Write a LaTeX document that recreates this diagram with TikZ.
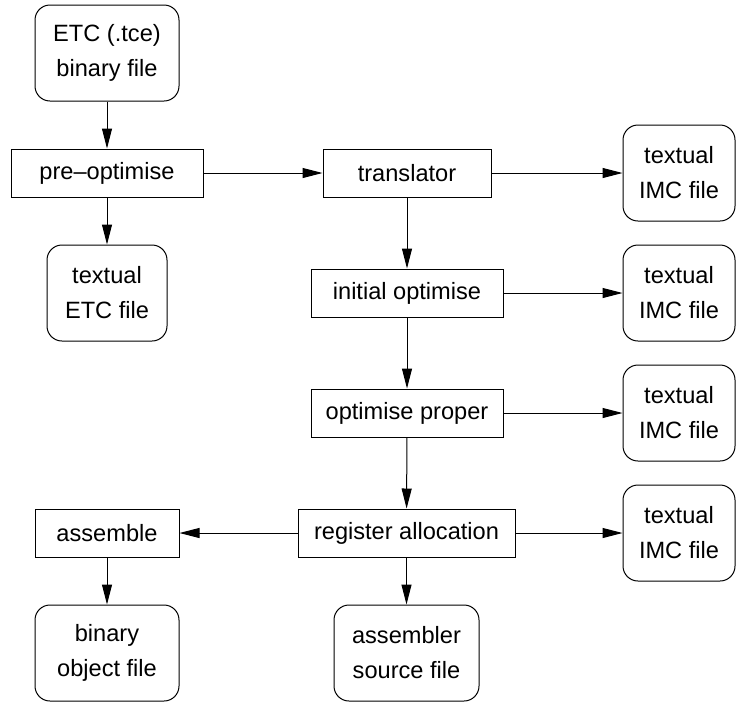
\documentclass[tikz,border=0pt]{standalone}
\usepackage{fontspec}
\setmainfont{Liberation Sans}
\usetikzlibrary{arrows.meta}
\tikzset{
  every node/.style={font=\fontsize{23.6}{35}\selectfont, align=center, inner sep=0pt, line width=1pt},
  proc/.style={draw, rectangle, minimum height=48pt},
  fileb/.style={draw, rectangle, rounded corners=15pt, minimum height=96pt},
  conn/.style={draw, line width=1pt, -{Triangle[length=20pt,width=10pt]}}
}
\begin{document}
\begin{tikzpicture}[x=1pt,y=-1pt]
\useasboundingbox (0,0) rectangle (736,702);
\node[fileb, minimum width=144pt] (etc) at (107,53) {ETC (.tce)\\binary file};
\node[proc, minimum width=192pt] (pre) at (107,173) {pre–optimise};
\node[fileb, minimum width=120pt] (tetc) at (107,293) {textual\\ETC file};
\node[proc, minimum width=168pt] (trans) at (407,173) {translator};
\node[fileb, minimum width=112pt] (imca) at (679,173) {textual\\IMC file};
\node[proc, minimum width=192pt] (init) at (407,293) {initial optimise};
\node[fileb, minimum width=112pt] (imcb) at (679,293) {textual\\IMC file};
\node[proc, minimum width=192pt] (opt) at (407,413) {optimise proper};
\node[fileb, minimum width=112pt] (imcc) at (679,413) {textual\\IMC file};
\node[proc, minimum width=217pt] (reg) at (406.5,533) {register allocation};
\node[fileb, minimum width=112pt] (imcd) at (679,533) {textual\\IMC file};
\node[proc, minimum width=144pt] (asm) at (107,533) {assemble};
\node[fileb, minimum width=144pt] (bin) at (107,653) {binary\\object file};
\node[fileb, minimum width=145pt] (src) at (406.5,653) {assembler\\source file};

\draw[conn] (etc) -- (pre);
\draw[conn] (pre) -- (tetc);
\draw[conn] (pre) -- (trans);
\draw[conn] (trans) -- (imca);
\draw[conn] (trans) -- (init);
\draw[conn] (init) -- (imcb);
\draw[conn] (init) -- (opt);
\draw[conn] (opt) -- (imcc);
\draw[conn] (opt) -- (reg);
\draw[conn] (reg) -- (imcd);
\draw[conn] (reg) -- (asm);
\draw[conn] (reg) -- (src);
\draw[conn] (asm) -- (bin);
\end{tikzpicture}
\end{document}
